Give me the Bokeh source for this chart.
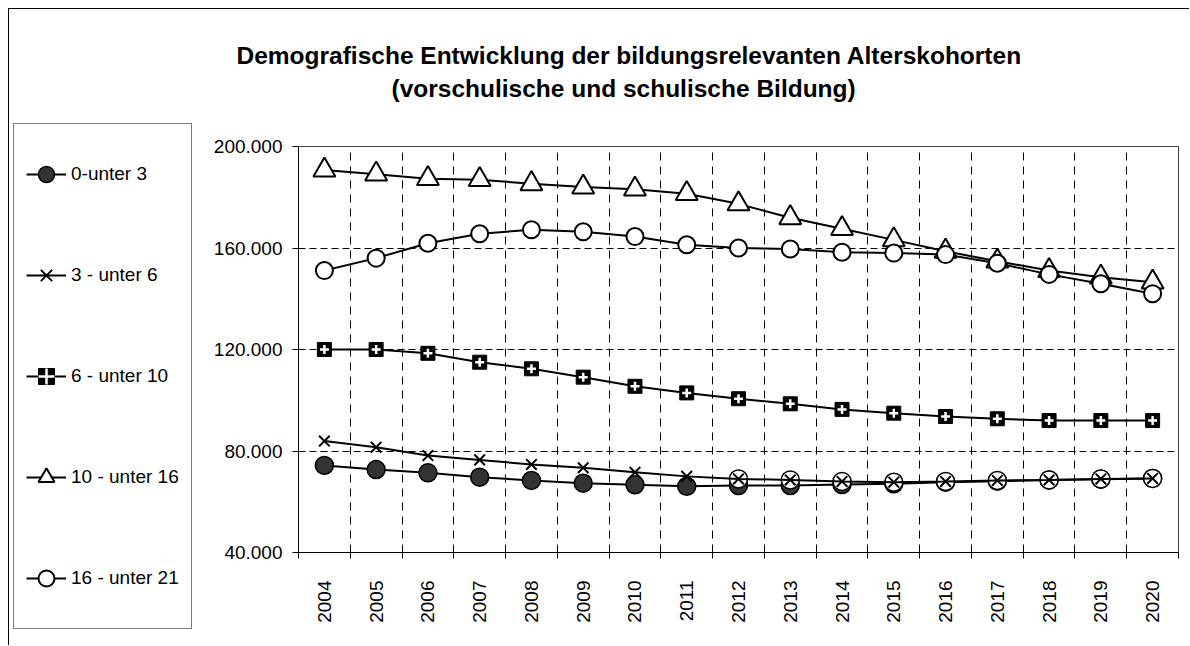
import math
from bokeh.plotting import figure
from bokeh.layouts import column, row
from bokeh.models import Legend, LegendItem, FixedTicker, Label
from bokeh.embed import file_html
from bokeh.resources import INLINE

# ---- data ----
years = list(range(2004, 2021))
age_0_3 = [74300, 72700, 71400, 69700, 68400, 67300, 66700, 66100, 66400, 66400,
           66800, 67100, 67700, 68100, 68600, 68900, 69200]
age_3_6 = [83900, 81500, 78200, 76500, 74700, 73400, 71600, 70000, 69000, 68600,
           68000, 67700, 68000, 68400, 68600, 69000, 69200]
age_6_10 = [120000, 120000, 118500, 115000, 112400, 109100, 105500, 102900, 100600, 98600,
            96400, 94900, 93600, 92700, 92000, 92000, 92000]
age_10_16 = [190700, 189100, 187300, 186900, 185300, 184000, 183200, 181400, 177400, 171900,
             167600, 163200, 158700, 154800, 151100, 148500, 146500]
age_16_21 = [151100, 156000, 161900, 165600, 167200, 166400, 164500, 161300, 160000, 159600,
             158300, 158000, 157400, 154000, 149600, 145900, 142000]
series_labels = ["0-unter 3", "3 - unter 6", "6 - unter 10", "10 - unter 16", "16 - unter 21"]
y_ticks = [40000, 80000, 120000, 160000, 200000]
title_lines = ["Demografische Entwicklung der bildungsrelevanten Alterskohorten",
               "(vorschulische und schulische Bildung)"]

FONT = "Liberation Sans"
LW = 2


def add_series(fig):
    """Draw the five series on fig and return the renderers for each legend entry."""
    r1l = fig.line(years, age_0_3, line_color="black", line_width=LW)
    r1m = fig.scatter(years, age_0_3, marker="circle", size=18, fill_color="#333333",
                      line_color="black", line_width=1.5)
    # white marker background of the 3-6 series where it overlaps the 0-3 series
    ov_years = [y for y in years if y >= 2012]
    ov_vals = [v for y, v in zip(years, age_3_6) if y >= 2012]
    fig.scatter(ov_years, ov_vals, marker="circle", size=18, fill_color="white",
                line_color="black", line_width=1.5)
    r2l = fig.line(years, age_3_6, line_color="black", line_width=LW)
    r2m = fig.scatter(years, age_3_6, marker="x", size=15, line_color="black", line_width=2)
    r3l = fig.line(years, age_6_10, line_color="black", line_width=LW)
    r3m = fig.scatter(years, age_6_10, marker="square", size=14, fill_color="black",
                      line_color="black", line_width=1)
    r3c = fig.scatter(years, age_6_10, marker="cross", size=9, line_color="white",
                      line_width=2.5)
    r4l = fig.line(years, age_10_16, line_color="black", line_width=LW)
    r4m = fig.scatter(years, age_10_16, marker="triangle", size=22, fill_color="white",
                      line_color="black", line_width=2)
    r5l = fig.line(years, age_16_21, line_color="black", line_width=LW)
    r5m = fig.scatter(years, age_16_21, marker="circle", size=17, fill_color="white",
                      line_color="black", line_width=2)
    return [[r1l, r1m], [r2l, r2m], [r3l, r3m, r3c], [r4l, r4m], [r5l, r5m]]


def blank_fig(w, h, **kw):
    f = figure(width=w, height=h, output_backend="svg", toolbar_location=None,
               x_axis_type=None, y_axis_type=None, min_border=0,
               background_fill_color="white", border_fill_color="white", **kw)
    f.outline_line_color = None
    f.xgrid.visible = False
    f.ygrid.visible = False
    return f


TOTAL_W, TOTAL_H = 1180, 636
LWID = 200
MW = TOTAL_W - LWID
TH = 109
MH = TOTAL_H - TH

# ---------------- title ----------------
tfig = blank_fig(MW, TH, x_range=(0, 1), y_range=(0, 1))
for txt, xx, yy in zip(title_lines, [27, 182], [63, 30.5]):
    tfig.add_layout(Label(x=xx, y=yy, x_units="screen", y_units="screen", text=txt,
                          text_align="left", text_baseline="alphabetic",
                          text_font=FONT, text_font_style="bold", text_font_size="24.5px",
                          text_color="black"))

# ---------------- main chart ----------------
p = figure(width=MW, height=MH,
           x_range=(years[0] - 0.5, years[-1] + 0.5), y_range=(y_ticks[0], y_ticks[-1]),
           output_backend="svg", toolbar_location=None,
           min_border_left=89, min_border_right=11, min_border_top=28, min_border_bottom=93,
           background_fill_color="white", border_fill_color="white")
p.outline_line_color = "#444444"
p.outline_line_width = 1

boundaries = [y - 0.5 for y in years] + [years[-1] + 0.5]
p.xaxis.ticker = FixedTicker(ticks=years, minor_ticks=boundaries)
p.xaxis.major_tick_out = 0
p.xaxis.major_tick_in = 0
p.xaxis.minor_tick_out = 6
p.xaxis.minor_tick_in = 0
p.xaxis.minor_tick_line_color = "black"
p.xaxis.axis_line_color = "black"
p.xaxis.major_label_orientation = math.pi / 2
p.xaxis.major_label_standoff = 22
p.xaxis.major_label_text_font = FONT
p.xaxis.major_label_text_font_size = "19px"
p.xaxis.major_label_text_color = "black"

p.yaxis.ticker = FixedTicker(ticks=y_ticks)
p.yaxis.major_label_overrides = {v: f"{v:,}".replace(",", ".") for v in y_ticks}
p.yaxis.minor_tick_line_color = None
p.yaxis.major_tick_out = 6
p.yaxis.major_tick_in = 0
p.yaxis.major_tick_line_color = "black"
p.yaxis.axis_line_color = "black"
p.yaxis.major_label_standoff = 10
p.yaxis.major_label_text_font = FONT
p.yaxis.major_label_text_font_size = "19px"
p.yaxis.major_label_text_color = "black"

p.ygrid.grid_line_color = "black"
p.ygrid.grid_line_dash = "7 4"
p.ygrid.grid_line_width = 1
p.xgrid.grid_line_color = None
p.xgrid.minor_grid_line_color = "black"
p.xgrid.minor_grid_line_dash = "8 6"
p.xgrid.minor_grid_line_width = 1

add_series(p)

# ---------------- legend panel ----------------
lfig = blank_fig(LWID, TOTAL_H, x_range=(0, 1), y_range=(0, 1))
leg_renderers = add_series(lfig)   # same series; outside this panel's ranges, so only the legend shows
items = [LegendItem(label=lab, renderers=rs) for lab, rs in zip(series_labels, leg_renderers)]
pad, gh, sp = 12, 76, 25
H = 2 * pad + 5 * gh + 4 * sp
legend = Legend(items=items, location=(4, TOTAL_H - 116 - H), orientation="vertical",
                glyph_width=40, glyph_height=gh, label_height=gh, spacing=sp,
                padding=pad, margin=0, label_standoff=5,
                label_text_font=FONT, label_text_font_size="19px",
                label_text_color="black",
                border_line_color="black", border_line_width=1,
                background_fill_color="white", background_fill_alpha=1.0)
lfig.add_layout(legend)

layout = row(lfig, column(tfig, row(p, spacing=0), spacing=0), spacing=0,
             styles={"margin-left": "8px", "margin-top": "8px",
                     "border-left": "1px solid black", "border-top": "1px solid black"})

open("out.html", "w").write(file_html(layout, INLINE))
